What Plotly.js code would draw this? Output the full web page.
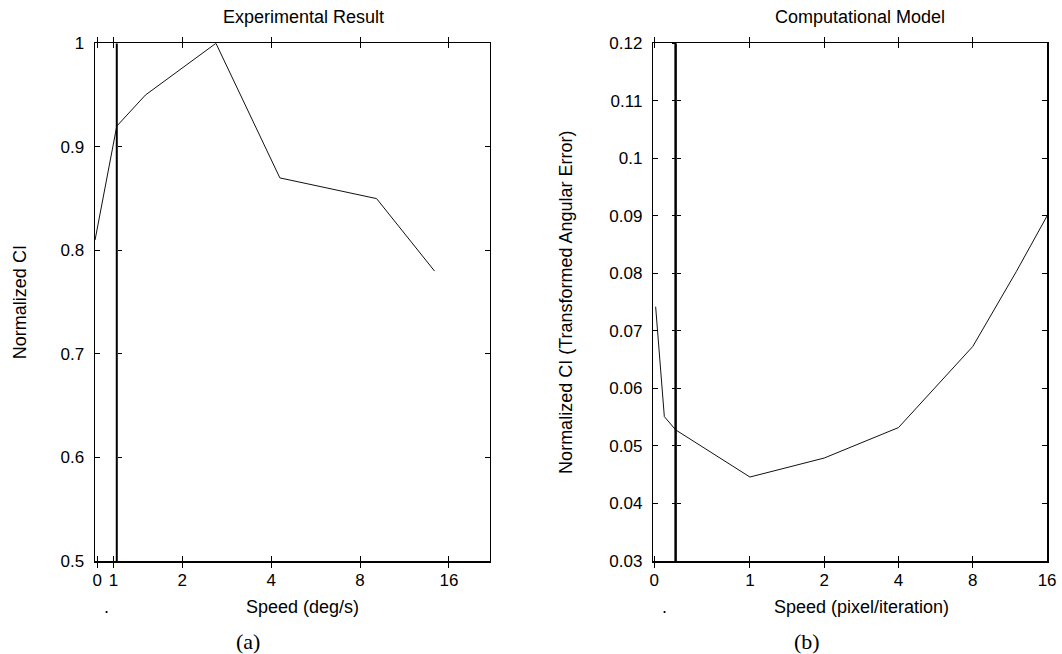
<!DOCTYPE html>
<html>
<head>
<meta charset="utf-8">
<script src="https://cdn.plot.ly/plotly-3.0.1.min.js"></script>
<style>html,body{margin:0;padding:0;background:#fff;}#chart{width:1062px;height:654px;}</style>
</head>
<body>
<div id="chart"></div>
<script>
// ---- data ----
const speedA = [1.013, 1.2, 1.5, 2.6, 4.28, 9.1, 14.3];
const ciA = [0.81, 0.92, 0.95, 1.0, 0.87, 0.85, 0.78];
const markerA = 1.2;

const speedB = [0.415, 0.45, 0.5, 1, 2, 4, 8, 12, 16];
const ciB = [0.0742, 0.0551, 0.0528, 0.0446, 0.0479, 0.0532, 0.0673, 0.0803, 0.09];
const markerB = 0.5;

const tickValsA = [1.03, 1.17, 2, 4, 8, 16];
const tickValsB = [0.41, 1, 2, 4, 8, 16];
const tickText = ['0', '1', '2', '4', '8', '16'];

const xRangeA = [1.0126, 21.98];
const xRangeB = [0.406, 16.03];
const yRangeA = [0.5, 1];
const yRangeB = [0.03, 0.12];

const titleA = 'Experimental Result';
const titleB = 'Computational Model';
const xTitleA = 'Speed (deg/s)';
const xTitleB = 'Speed (pixel/iteration)';
const yTitleA = 'Normalized CI';
const yTitleB = 'Normalized CI (Transformed Angular Error)';

// ---- layout geometry ----
const W = 1062, H = 654;
const domXA = [95 / W, 489.7 / W];
const domXB = [653.3 / W, 1047.3 / W];
const domY = [(H - 561) / H, (H - 43.3) / H];
const px = v => v / W;
const py = v => 1 - v / H;

function fracLog(v, range, dom) {
  const a = Math.log10(range[0]), b = Math.log10(range[1]);
  return dom[0] + (Math.log10(v) - a) / (b - a) * (dom[1] - dom[0]);
}

const FONT = 'Liberation Sans, Arial, sans-serif';
const SERIF = 'Liberation Serif, DejaVu Serif, serif';

const lineStyle = {color: '#111', width: 1};

const traces = [
  {x: speedA, y: ciA, type: 'scatter', mode: 'lines', line: lineStyle, xaxis: 'x', yaxis: 'y', showlegend: false, hoverinfo: 'x+y'},
  {x: [markerA, markerA], y: yRangeA, type: 'scatter', mode: 'lines', line: {color: '#000', width: 2}, xaxis: 'x', yaxis: 'y3', showlegend: false, hoverinfo: 'skip'},
  {x: speedB, y: ciB, type: 'scatter', mode: 'lines', line: lineStyle, xaxis: 'x2', yaxis: 'y2', showlegend: false, hoverinfo: 'x+y'},
  {x: [markerB, markerB], y: yRangeB, type: 'scatter', mode: 'lines', line: {color: '#000', width: 2}, xaxis: 'x2', yaxis: 'y4', showlegend: false, hoverinfo: 'skip'},
  {x: [markerB, markerB], y: yRangeB, type: 'scatter', mode: 'lines', line: {color: '#000', width: 2}, xaxis: 'x2', yaxis: 'y5', showlegend: false, hoverinfo: 'skip'}
];

const common = {
  showline: true, linecolor: '#000', linewidth: 1.5, mirror: 'allticks',
  ticks: 'inside', ticklen: 5, tickwidth: 1, tickcolor: '#000',
  showgrid: false, zeroline: false,
  tickfont: {family: FONT, size: 17, color: '#000'}
};

const overlayTicks = (over, range, dtick, pos, dir) => ({
  overlaying: over, anchor: 'free', position: pos, side: 'left',
  range: range, dtick: dtick, tick0: range[0],
  ticks: dir, ticklen: 4, tickwidth: 1, tickcolor: '#000',
  showticklabels: false, showline: false, showgrid: false, zeroline: false
});

const layout = {
  width: W, height: H,
  margin: {l: 0, r: 0, t: 0, b: 0},
  paper_bgcolor: '#fff', plot_bgcolor: '#fff',
  showlegend: false,
  font: {family: FONT, size: 17, color: '#000'},
  xaxis: Object.assign({}, common, {
    domain: domXA, anchor: 'y', type: 'log',
    range: xRangeA.map(Math.log10), ticklabelstandoff: 3,
    tickmode: 'array', tickvals: tickValsA, ticktext: tickText
  }),
  yaxis: Object.assign({}, common, {
    domain: domY, anchor: 'x', range: yRangeA, dtick: 0.1, tick0: 0.5,
    ticklabelstandoff: 6,
    title: {text: yTitleA, font: {family: FONT, size: 18, color: '#000'}, standoff: 29}
  }),
  xaxis2: Object.assign({}, common, {
    domain: domXB, anchor: 'y2', type: 'log',
    range: xRangeB.map(Math.log10), ticklabelstandoff: 3,
    tickmode: 'array', tickvals: tickValsB, ticktext: tickText
  }),
  yaxis2: Object.assign({}, common, {
    domain: domY, anchor: 'x2', range: yRangeB, dtick: 0.01, tick0: 0.03,
    ticklabelstandoff: 6,
    title: {text: yTitleB, font: {family: FONT, size: 18, color: '#000'}, standoff: 32}
  }),
  yaxis3: overlayTicks('y', yRangeA, 0.1, fracLog(markerA, xRangeA, domXA), 'inside'),
  yaxis4: overlayTicks('y2', yRangeB, 0.01, fracLog(markerB, xRangeB, domXB), 'inside'),
  yaxis5: overlayTicks('y2', yRangeB, 0.01, fracLog(markerB, xRangeB, domXB), 'outside'),
  annotations: [
    {text: titleA, x: px(303.3), y: py(16.8)},
    {text: titleB, x: px(860.3), y: py(16.8)},
    {text: xTitleA, x: px(302.9), y: py(607)},
    {text: xTitleB, x: px(861.3), y: py(607)},
    {text: '.', x: px(106.7), y: py(607)},
    {text: '.', x: px(664), y: py(607)},
    {text: '(a)', x: px(248), y: py(641), font: {family: SERIF, size: 22, color: '#000'}},
    {text: '(b)', x: px(806.7), y: py(641), font: {family: SERIF, size: 22, color: '#000'}}
  ].map(a => Object.assign({
    xref: 'paper', yref: 'paper', xanchor: 'center', yanchor: 'middle',
    showarrow: false, font: {family: FONT, size: 18, color: '#000'}
  }, a))
};

Plotly.newPlot('chart', traces, layout, {displayModeBar: false, staticPlot: true});
</script>
</body>
</html>
